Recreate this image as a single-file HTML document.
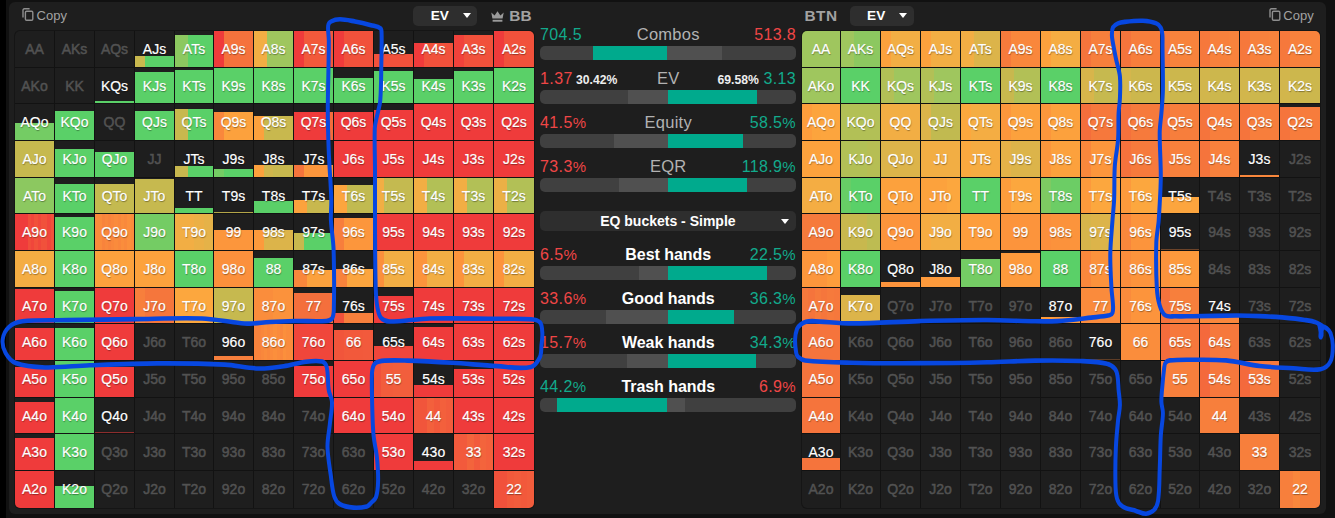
<!DOCTYPE html>
<html><head><meta charset="utf-8"><title>ranges</title>
<style>
*{box-sizing:border-box;margin:0;padding:0}
html,body{width:1335px;height:518px;overflow:hidden;background:#111;font-family:"Liberation Sans",sans-serif}
.strip{position:absolute;left:0;top:0;width:6.2px;height:518px;background:#000}
.card{position:absolute;left:9.1px;top:1.5px;width:1316.6px;height:512.4px;background:#1e1e1e;border-radius:6px}
.grid{position:absolute;background:#121212;border-radius:5px;overflow:hidden;box-shadow:0 0 0 1px #151515}
.c{position:absolute;background:#1e1e1e;color:#525252;font-size:14px;line-height:16px;text-align:center;-webkit-text-stroke:.5px currentColor;overflow:hidden}
.c.w{color:#fff;-webkit-text-stroke:.18px #fff;text-shadow:.5px 1px 1px rgba(0,0,0,.38)}
.c i{position:absolute;left:0;bottom:0;width:100%;display:block}
.c span{position:absolute;left:0;width:100%;display:block}
.hd{position:absolute;color:#a2a2a2;white-space:nowrap}
.dd{position:absolute;background:#2e2e2e;border-radius:5px;color:#fff;font-weight:bold}
.caret{position:absolute;width:0;height:0;border-left:4.7px solid transparent;border-right:4.7px solid transparent;border-top:5.4px solid #fff}
.row{position:absolute;left:540.1px;width:255.6px;height:20px;line-height:20px;font-size:16px;white-space:nowrap}
.row span{position:absolute;top:0}
.row .l{left:0;letter-spacing:.35px} .row .r{right:-.35px;letter-spacing:.35px} .row .m{left:0;width:256.3px;text-align:center;color:#b2b2b2;font-size:16.5px;letter-spacing:.25px;top:-1px}
.row .m.b{top:0;color:#fff;font-weight:bold;letter-spacing:-.05px;font-size:16px}
.row em{font-style:normal;font-size:15px}
.hd svg{display:block}
.g{color:#12aa8c} .rd{color:#ef4646}
.pc{color:#eee;font-size:12.2px;font-weight:bold;margin:0 4.6px 0 3.4px;position:relative;top:-.5px;letter-spacing:0}
.bar{position:absolute;left:540.1px;width:256.3px;height:13.8px;border-radius:5px;background:#404040;overflow:hidden}
.bar i{position:absolute;top:0;height:100%;display:block}
.bar .t{background:#00aa8d} .bar .h{background:#505050}
.ann{position:absolute;left:0;top:0;pointer-events:none}
</style></head><body>
<div class="strip"></div><div class="card"></div>
<div class="hd" style="left:21.9px;top:8.3px;height:13px"><svg width="12" height="13" viewBox="0 0 12 13"><rect x="3.4" y="3.2" width="7.4" height="9" rx="1.2" fill="none" stroke="#8e8e8e" stroke-width="1.4"/><path d="M1 9.6V2.2Q1 .8 2.4 .8H7.6" fill="none" stroke="#8e8e8e" stroke-width="1.4"/></svg></div>
<div class="hd" style="left:36.6px;top:7.8px;font-size:13px;line-height:15px">Copy</div>
<div class="hd" style="left:1268.5px;top:8.3px;height:13px"><svg width="12" height="13" viewBox="0 0 12 13"><rect x="3.4" y="3.2" width="7.4" height="9" rx="1.2" fill="none" stroke="#8e8e8e" stroke-width="1.4"/><path d="M1 9.6V2.2Q1 .8 2.4 .8H7.6" fill="none" stroke="#8e8e8e" stroke-width="1.4"/></svg></div>
<div class="hd" style="left:1283.3px;top:7.8px;font-size:13px;line-height:15px">Copy</div>
<div class="dd" style="left:413.1px;top:6px;width:63.7px;height:19.9px"><span style="position:absolute;left:17.7px;top:1.9px;font-size:13.6px;line-height:16px">EV</span><div class="caret" style="left:50.2px;top:7.3px"></div></div>
<div class="hd" style="left:491px;top:11.1px;height:11px"><svg width="13" height="11" viewBox="0 0 13 11"><path d="M.3 1.4L3.6 4.6 6.5 .3 9.4 4.6 12.7 1.4 11.6 7.6H1.4Z" fill="#9a9a9a"/><rect x="1.6" y="8.8" width="9.8" height="1.9" fill="#9a9a9a"/></svg></div>
<div class="hd" style="left:509.3px;top:6.8px;font-size:15.4px;line-height:18px;font-weight:bold">BB</div>
<div class="hd" style="left:804.4px;top:6.8px;font-size:15.4px;letter-spacing:.5px;line-height:18px;font-weight:bold">BTN</div>
<div class="dd" style="left:850px;top:6px;width:64px;height:19.9px"><span style="position:absolute;left:17.1px;top:1.9px;font-size:13.6px;line-height:16px">EV</span><div class="caret" style="left:49.2px;top:7.3px"></div></div>
<div class="grid" style="left:15px;top:31px;width:519px;height:477px">
<div class="c" style="left:0px;top:0px;width:39px;height:36px"><span style="top:10.00px">AA</span></div>
<div class="c" style="left:40px;top:0px;width:39px;height:36px"><span style="top:10.00px">AKs</span></div>
<div class="c" style="left:80px;top:0px;width:39px;height:36px"><span style="top:10.00px">AQs</span></div>
<div class="c w" style="left:120px;top:0px;width:39px;height:36px"><i style="height:11px;background:linear-gradient(90deg,#c8b84e 0.00% 25.00%,#5ad068 25.00% 50.00%,#5ad068 50.00% 75.00%,#5ad068 75.00% 100.00%)"></i><span style="top:10.00px">AJs</span></div>
<div class="c w" style="left:160px;top:0px;width:38px;height:36px"><i style="height:32px;background:linear-gradient(90deg,#8cc860 0.00% 16.67%,#8cc860 16.67% 33.33%,#5ad068 33.33% 50.00%,#5ad068 50.00% 66.67%,#5ad068 66.67% 83.33%,#5ad068 83.33% 100.00%)"></i><span style="top:10.00px">ATs</span></div>
<div class="c w" style="left:199px;top:0px;width:39px;height:36px"><i style="height:36.0px;background:linear-gradient(90deg,#ef3b3b 0.00% 25.00%,#f5723c 25.00% 50.00%,#f5723c 50.00% 75.00%,#f5723c 75.00% 100.00%)"></i><span style="top:10.00px">A9s</span></div>
<div class="c w" style="left:239px;top:0px;width:39px;height:36px"><i style="height:36.0px;background:linear-gradient(90deg,#f2ae44 0.00% 33.33%,#9fc65e 33.33% 66.67%,#9fc65e 66.67% 100.00%)"></i><span style="top:10.00px">A8s</span></div>
<div class="c w" style="left:279px;top:0px;width:39px;height:36px"><i style="height:36.0px;background:linear-gradient(90deg,#ef3b3b 0.00% 25.00%,#f2593b 25.00% 50.00%,#f2593b 50.00% 75.00%,#f2593b 75.00% 100.00%)"></i><span style="top:10.00px">A7s</span></div>
<div class="c w" style="left:319px;top:0px;width:39px;height:36px"><i style="height:36.0px;background:linear-gradient(90deg,#ef3b3b 0.00% 25.00%,#f1513b 25.00% 50.00%,#f1513b 50.00% 75.00%,#f1513b 75.00% 100.00%)"></i><span style="top:10.00px">A6s</span></div>
<div class="c w" style="left:359px;top:0px;width:39px;height:36px"><i style="height:13px;background:#f1513b"></i><span style="top:10.00px">A5s</span></div>
<div class="c w" style="left:399px;top:0px;width:39px;height:36px"><i style="height:24px;background:linear-gradient(90deg,#ef3b3b 0.00% 25.00%,#f1513b 25.00% 50.00%,#f1513b 50.00% 75.00%,#f1513b 75.00% 100.00%)"></i><span style="top:10.00px">A4s</span></div>
<div class="c w" style="left:439px;top:0px;width:39px;height:36px"><i style="height:32px;background:linear-gradient(90deg,#f0423b 0.00% 25.00%,#f1513b 25.00% 50.00%,#f1513b 50.00% 75.00%,#f1513b 75.00% 100.00%)"></i><span style="top:10.00px">A3s</span></div>
<div class="c w" style="left:479px;top:0px;width:40px;height:36px"><i style="height:36.0px;background:linear-gradient(90deg,#ef3b3b 0.00% 25.00%,#f1513b 25.00% 50.00%,#f1513b 50.00% 75.00%,#f1513b 75.00% 100.00%)"></i><span style="top:10.00px">A2s</span></div>
<div class="c" style="left:0px;top:37px;width:39px;height:35px"><span style="top:9.68px">AKo</span></div>
<div class="c" style="left:40px;top:37px;width:39px;height:35px"><span style="top:9.68px">KK</span></div>
<div class="c w" style="left:80px;top:37px;width:39px;height:35px"><i style="height:2px;background:#5ad068"></i><span style="top:9.68px">KQs</span></div>
<div class="c w" style="left:120px;top:37px;width:39px;height:35px"><i style="height:31px;background:#5ad068"></i><span style="top:9.68px">KJs</span></div>
<div class="c w" style="left:160px;top:37px;width:38px;height:35px"><i style="height:33px;background:#5ad068"></i><span style="top:9.68px">KTs</span></div>
<div class="c w" style="left:199px;top:37px;width:39px;height:35px"><i style="height:35.0px;background:#5ad068"></i><span style="top:9.68px">K9s</span></div>
<div class="c w" style="left:239px;top:37px;width:39px;height:35px"><i style="height:35.0px;background:#5ad068"></i><span style="top:9.68px">K8s</span></div>
<div class="c w" style="left:279px;top:37px;width:39px;height:35px"><i style="height:35.0px;background:#5ad068"></i><span style="top:9.68px">K7s</span></div>
<div class="c w" style="left:319px;top:37px;width:39px;height:35px"><i style="height:25px;background:#5ad068"></i><span style="top:9.68px">K6s</span></div>
<div class="c w" style="left:359px;top:37px;width:39px;height:35px"><i style="height:32px;background:#5ad068"></i><span style="top:9.68px">K5s</span></div>
<div class="c w" style="left:399px;top:37px;width:39px;height:35px"><i style="height:24px;background:#5ad068"></i><span style="top:9.68px">K4s</span></div>
<div class="c w" style="left:439px;top:37px;width:39px;height:35px"><i style="height:32px;background:#5ad068"></i><span style="top:9.68px">K3s</span></div>
<div class="c w" style="left:479px;top:37px;width:40px;height:35px"><i style="height:35.0px;background:#5ad068"></i><span style="top:9.68px">K2s</span></div>
<div class="c w" style="left:0px;top:73px;width:39px;height:36px"><i style="height:17px;background:#74cc64"></i><span style="top:10.36px">AQo</span></div>
<div class="c w" style="left:40px;top:73px;width:39px;height:36px"><i style="height:29px;background:#5ad068"></i><span style="top:10.36px">KQo</span></div>
<div class="c" style="left:80px;top:73px;width:39px;height:36px"><span style="top:10.36px">QQ</span></div>
<div class="c w" style="left:120px;top:73px;width:39px;height:36px"><i style="height:29px;background:#5ad068"></i><span style="top:10.36px">QJs</span></div>
<div class="c w" style="left:160px;top:73px;width:38px;height:36px"><i style="height:31px;background:linear-gradient(90deg,#c8b84e 0.00% 33.33%,#5ad068 33.33% 66.67%,#5ad068 66.67% 100.00%)"></i><span style="top:10.36px">QTs</span></div>
<div class="c w" style="left:199px;top:73px;width:39px;height:36px"><i style="height:28px;background:linear-gradient(90deg,#f9873c 0.00% 25.00%,#fca13d 25.00% 50.00%,#fca13d 50.00% 75.00%,#fca13d 75.00% 100.00%)"></i><span style="top:10.36px">Q9s</span></div>
<div class="c w" style="left:239px;top:73px;width:39px;height:36px"><i style="height:24px;background:linear-gradient(90deg,#fca13d 0.00% 25.00%,#c8b84e 25.00% 50.00%,#c8b84e 50.00% 75.00%,#c8b84e 75.00% 100.00%)"></i><span style="top:10.36px">Q8s</span></div>
<div class="c w" style="left:279px;top:73px;width:39px;height:36px"><i style="height:28px;background:linear-gradient(90deg,#ef3b3b 0.00% 8.33%,#ef3b3b 8.33% 16.67%,#ef3b3b 16.67% 25.00%,#ef3b3b 25.00% 33.33%,#ef3b3b 33.33% 41.67%,#ef3b3b 41.67% 50.00%,#ef3b3b 50.00% 58.33%,#ef3b3b 58.33% 66.67%,#ef3b3b 66.67% 75.00%,#ef3b3b 75.00% 83.33%,#ef3b3b 83.33% 91.67%,#f46c3c 91.67% 100.00%)"></i><span style="top:10.36px">Q7s</span></div>
<div class="c w" style="left:319px;top:73px;width:39px;height:36px"><i style="height:28px;background:#ef3b3b"></i><span style="top:10.36px">Q6s</span></div>
<div class="c w" style="left:359px;top:73px;width:39px;height:36px"><i style="height:30px;background:#ef3b3b"></i><span style="top:10.36px">Q5s</span></div>
<div class="c w" style="left:399px;top:73px;width:39px;height:36px"><i style="height:36.0px;background:#ef3b3b"></i><span style="top:10.36px">Q4s</span></div>
<div class="c w" style="left:439px;top:73px;width:39px;height:36px"><i style="height:36.0px;background:#ef3b3b"></i><span style="top:10.36px">Q3s</span></div>
<div class="c w" style="left:479px;top:73px;width:40px;height:36px"><i style="height:36.0px;background:#ef3b3b"></i><span style="top:10.36px">Q2s</span></div>
<div class="c w" style="left:0px;top:110px;width:39px;height:36px"><i style="height:36.0px;background:#c6b94f"></i><span style="top:10.04px">AJo</span></div>
<div class="c w" style="left:40px;top:110px;width:39px;height:36px"><i style="height:28px;background:#5ad068"></i><span style="top:10.04px">KJo</span></div>
<div class="c w" style="left:80px;top:110px;width:39px;height:36px"><i style="height:25px;background:#5ad068"></i><span style="top:10.04px">QJo</span></div>
<div class="c" style="left:120px;top:110px;width:39px;height:36px"><span style="top:10.04px">JJ</span></div>
<div class="c w" style="left:160px;top:110px;width:38px;height:36px"><i style="height:11px;background:linear-gradient(90deg,#c8b84e 0.00% 33.33%,#5ad068 33.33% 66.67%,#5ad068 66.67% 100.00%)"></i><span style="top:10.04px">JTs</span></div>
<div class="c w" style="left:199px;top:110px;width:39px;height:36px"><i style="height:8px;background:linear-gradient(90deg,#74cc64 0.00% 25.00%,#5ad068 25.00% 50.00%,#5ad068 50.00% 75.00%,#5ad068 75.00% 100.00%)"></i><span style="top:10.04px">J9s</span></div>
<div class="c w" style="left:239px;top:110px;width:39px;height:36px"><i style="height:12px;background:linear-gradient(90deg,#fca13d 0.00% 25.00%,#d0b64c 25.00% 50.00%,#c8b84e 50.00% 75.00%,#c8b84e 75.00% 100.00%)"></i><span style="top:10.04px">J8s</span></div>
<div class="c w" style="left:279px;top:110px;width:39px;height:36px"><i style="height:12px;background:linear-gradient(90deg,#f5743c 0.00% 25.00%,#fc963c 25.00% 50.00%,#fc963c 50.00% 75.00%,#fc963c 75.00% 100.00%)"></i><span style="top:10.04px">J7s</span></div>
<div class="c w" style="left:319px;top:110px;width:39px;height:36px"><i style="height:36.0px;background:#ef3b3b"></i><span style="top:10.04px">J6s</span></div>
<div class="c w" style="left:359px;top:110px;width:39px;height:36px"><i style="height:36.0px;background:#ef3b3b"></i><span style="top:10.04px">J5s</span></div>
<div class="c w" style="left:399px;top:110px;width:39px;height:36px"><i style="height:36.0px;background:#ef3b3b"></i><span style="top:10.04px">J4s</span></div>
<div class="c w" style="left:439px;top:110px;width:39px;height:36px"><i style="height:36.0px;background:#ef3b3b"></i><span style="top:10.04px">J3s</span></div>
<div class="c w" style="left:479px;top:110px;width:40px;height:36px"><i style="height:36.0px;background:#ef3b3b"></i><span style="top:10.04px">J2s</span></div>
<div class="c w" style="left:0px;top:147px;width:39px;height:35px"><i style="height:35.0px;background:#8cc860"></i><span style="top:9.72px">ATo</span></div>
<div class="c w" style="left:40px;top:147px;width:39px;height:35px"><i style="height:29px;background:#5ad068"></i><span style="top:9.72px">KTo</span></div>
<div class="c w" style="left:80px;top:147px;width:39px;height:35px"><i style="height:29px;background:#c4ba50"></i><span style="top:9.72px">QTo</span></div>
<div class="c w" style="left:120px;top:147px;width:39px;height:35px"><i style="height:34px;background:#c6b94f"></i><span style="top:9.72px">JTo</span></div>
<div class="c w" style="left:160px;top:147px;width:38px;height:35px"><i style="height:5px;background:#5ad068"></i><span style="top:9.72px">TT</span></div>
<div class="c w" style="left:199px;top:147px;width:39px;height:35px"><i style="height:1px;background:#c8b84e;opacity:0.88"></i><span style="top:9.72px">T9s</span></div>
<div class="c w" style="left:239px;top:147px;width:39px;height:35px"><i style="height:12px;background:#5ad068"></i><span style="top:9.72px">T8s</span></div>
<div class="c w" style="left:279px;top:147px;width:39px;height:35px"><i style="height:13px;background:linear-gradient(90deg,#fca23d 0.00% 16.67%,#fca23d 16.67% 33.33%,#c8b84e 33.33% 50.00%,#c8b84e 50.00% 66.67%,#c8b84e 66.67% 83.33%,#c8b84e 83.33% 100.00%)"></i><span style="top:9.72px">T7s</span></div>
<div class="c w" style="left:319px;top:147px;width:39px;height:35px"><i style="height:28px;background:linear-gradient(90deg,#fca53e 0.00% 16.67%,#fca53e 16.67% 33.33%,#c1ba50 33.33% 50.00%,#c1ba50 50.00% 66.67%,#c1ba50 66.67% 83.33%,#c1ba50 83.33% 100.00%)"></i><span style="top:9.72px">T6s</span></div>
<div class="c w" style="left:359px;top:147px;width:39px;height:35px"><i style="height:35.0px;background:linear-gradient(90deg,#f2ae44 0.00% 25.00%,#c4ba50 25.00% 50.00%,#c4ba50 50.00% 75.00%,#c4ba50 75.00% 100.00%)"></i><span style="top:9.72px">T5s</span></div>
<div class="c w" style="left:399px;top:147px;width:39px;height:35px"><i style="height:35.0px;background:linear-gradient(90deg,#f2ae44 0.00% 33.33%,#b2c056 33.33% 66.67%,#b2c056 66.67% 100.00%)"></i><span style="top:9.72px">T4s</span></div>
<div class="c w" style="left:439px;top:147px;width:39px;height:35px"><i style="height:35.0px;background:linear-gradient(90deg,#f2ae44 0.00% 33.33%,#b2c056 33.33% 66.67%,#b2c056 66.67% 100.00%)"></i><span style="top:9.72px">T3s</span></div>
<div class="c w" style="left:479px;top:147px;width:40px;height:35px"><i style="height:35.0px;background:linear-gradient(90deg,#ebb046 0.00% 33.33%,#b2c056 33.33% 66.67%,#b2c056 66.67% 100.00%)"></i><span style="top:9.72px">T2s</span></div>
<div class="c w" style="left:0px;top:183px;width:39px;height:36px"><i style="height:36.0px;background:linear-gradient(90deg,#ef3b3b 0.00% 8.33%,#ef3b3b 8.33% 16.67%,#ef3b3b 16.67% 25.00%,#ef3b3b 25.00% 33.33%,#f14d3b 33.33% 41.67%,#f0463b 41.67% 50.00%,#f1513b 50.00% 58.33%,#f0483b 58.33% 66.67%,#f1513b 66.67% 75.00%,#f1513b 75.00% 83.33%,#f0463b 83.33% 91.67%,#f1513b 91.67% 100.00%)"></i><span style="top:10.40px">A9o</span></div>
<div class="c w" style="left:40px;top:183px;width:39px;height:36px"><i style="height:33px;background:#5ad068"></i><span style="top:10.40px">K9o</span></div>
<div class="c w" style="left:80px;top:183px;width:39px;height:36px"><i style="height:36.0px;background:linear-gradient(90deg,#fa8b3c 0.00% 8.33%,#fa8b3c 8.33% 16.67%,#f8833c 16.67% 25.00%,#f9873c 25.00% 33.33%,#f8833c 33.33% 41.67%,#f9873c 41.67% 50.00%,#fa8b3c 50.00% 58.33%,#f9873c 58.33% 66.67%,#fa8d3c 66.67% 75.00%,#f9893c 75.00% 83.33%,#fb8f3c 83.33% 91.67%,#fa8b3c 91.67% 100.00%)"></i><span style="top:10.40px">Q9o</span></div>
<div class="c w" style="left:120px;top:183px;width:39px;height:36px"><i style="height:36.0px;background:#74cc64"></i><span style="top:10.40px">J9o</span></div>
<div class="c w" style="left:160px;top:183px;width:38px;height:36px"><i style="height:36.0px;background:linear-gradient(90deg,#f2ae44 0.00% 25.00%,#f2ae44 25.00% 50.00%,#ebb046 50.00% 75.00%,#e5b248 75.00% 100.00%)"></i><span style="top:10.40px">T9o</span></div>
<div class="c w" style="left:199px;top:183px;width:39px;height:36px"><i style="height:20px;background:#fc963c"></i><span style="top:10.40px">99</span></div>
<div class="c w" style="left:239px;top:183px;width:39px;height:36px"><i style="height:20px;background:linear-gradient(90deg,#fd9a3c 0.00% 25.00%,#dcb44a 25.00% 50.00%,#dcb44a 50.00% 75.00%,#dcb44a 75.00% 100.00%)"></i><span style="top:10.40px">98s</span></div>
<div class="c w" style="left:279px;top:183px;width:39px;height:36px"><i style="height:17px;background:linear-gradient(90deg,#c8b84e 0.00% 25.00%,#5ad068 25.00% 50.00%,#5ad068 50.00% 75.00%,#5ad068 75.00% 100.00%)"></i><span style="top:10.40px">97s</span></div>
<div class="c w" style="left:319px;top:183px;width:39px;height:36px"><i style="height:32px;background:linear-gradient(90deg,#f77e3c 0.00% 25.00%,#fc963c 25.00% 50.00%,#fc963c 50.00% 75.00%,#fc963c 75.00% 100.00%)"></i><span style="top:10.40px">96s</span></div>
<div class="c w" style="left:359px;top:183px;width:39px;height:36px"><i style="height:36.0px;background:#ef3b3b"></i><span style="top:10.40px">95s</span></div>
<div class="c w" style="left:399px;top:183px;width:39px;height:36px"><i style="height:36.0px;background:#ef3b3b"></i><span style="top:10.40px">94s</span></div>
<div class="c w" style="left:439px;top:183px;width:39px;height:36px"><i style="height:36.0px;background:#ef3b3b"></i><span style="top:10.40px">93s</span></div>
<div class="c w" style="left:479px;top:183px;width:40px;height:36px"><i style="height:36.0px;background:#ef3b3b"></i><span style="top:10.40px">92s</span></div>
<div class="c w" style="left:0px;top:220px;width:39px;height:36px"><i style="height:36.0px;background:#f4ad43"></i><span style="top:10.08px">A8o</span></div>
<div class="c w" style="left:40px;top:220px;width:39px;height:36px"><i style="height:36.0px;background:#5ad068"></i><span style="top:10.08px">K8o</span></div>
<div class="c w" style="left:80px;top:220px;width:39px;height:36px"><i style="height:36.0px;background:#fca23d"></i><span style="top:10.08px">Q8o</span></div>
<div class="c w" style="left:120px;top:220px;width:39px;height:36px"><i style="height:36.0px;background:#fca23d"></i><span style="top:10.08px">J8o</span></div>
<div class="c w" style="left:160px;top:220px;width:38px;height:36px"><i style="height:36.0px;background:#5ad068"></i><span style="top:10.08px">T8o</span></div>
<div class="c w" style="left:199px;top:220px;width:39px;height:36px"><i style="height:36.0px;background:#fb903c"></i><span style="top:10.08px">98o</span></div>
<div class="c w" style="left:239px;top:220px;width:39px;height:36px"><i style="height:29px;background:#5ad068"></i><span style="top:10.08px">88</span></div>
<div class="c w" style="left:279px;top:220px;width:39px;height:36px"><i style="height:17px;background:linear-gradient(90deg,#f9873c 0.00% 33.33%,#fca13d 33.33% 66.67%,#fca13d 66.67% 100.00%)"></i><span style="top:10.08px">87s</span></div>
<div class="c w" style="left:319px;top:220px;width:39px;height:36px"><i style="height:18px;background:linear-gradient(90deg,#f8833c 0.00% 33.33%,#fca53e 33.33% 66.67%,#fca53e 66.67% 100.00%)"></i><span style="top:10.08px">86s</span></div>
<div class="c w" style="left:359px;top:220px;width:39px;height:36px"><i style="height:36.0px;background:linear-gradient(90deg,#fb903c 0.00% 25.00%,#f2ae44 25.00% 50.00%,#f2ae44 50.00% 75.00%,#f2ae44 75.00% 100.00%)"></i><span style="top:10.08px">85s</span></div>
<div class="c w" style="left:399px;top:220px;width:39px;height:36px"><i style="height:36.0px;background:linear-gradient(90deg,#fc943c 0.00% 33.33%,#f2ae44 33.33% 66.67%,#f2ae44 66.67% 100.00%)"></i><span style="top:10.08px">84s</span></div>
<div class="c w" style="left:439px;top:220px;width:39px;height:36px"><i style="height:36.0px;background:linear-gradient(90deg,#fc943c 0.00% 25.00%,#f2ae44 25.00% 50.00%,#f2ae44 50.00% 75.00%,#f2ae44 75.00% 100.00%)"></i><span style="top:10.08px">83s</span></div>
<div class="c w" style="left:479px;top:220px;width:40px;height:36px"><i style="height:36.0px;background:linear-gradient(90deg,#fc943c 0.00% 25.00%,#f2ae44 25.00% 50.00%,#f2ae44 50.00% 75.00%,#f2ae44 75.00% 100.00%)"></i><span style="top:10.08px">82s</span></div>
<div class="c w" style="left:0px;top:257px;width:39px;height:35px"><i style="height:34px;background:#ef3b3b"></i><span style="top:9.76px">A7o</span></div>
<div class="c w" style="left:40px;top:257px;width:39px;height:35px"><i style="height:32px;background:#5ad068"></i><span style="top:9.76px">K7o</span></div>
<div class="c w" style="left:80px;top:257px;width:39px;height:35px"><i style="height:35.0px;background:#ef3b3b"></i><span style="top:9.76px">Q7o</span></div>
<div class="c w" style="left:120px;top:257px;width:39px;height:35px"><i style="height:35.0px;background:linear-gradient(90deg,#f77f3c 0.00% 25.00%,#f5763c 25.00% 50.00%,#f5763c 50.00% 75.00%,#f5763c 75.00% 100.00%)"></i><span style="top:9.76px">J7o</span></div>
<div class="c w" style="left:160px;top:257px;width:38px;height:35px"><i style="height:35.0px;background:#fca73e"></i><span style="top:9.76px">T7o</span></div>
<div class="c w" style="left:199px;top:257px;width:39px;height:35px"><i style="height:35.0px;background:#c6b94f"></i><span style="top:9.76px">97o</span></div>
<div class="c w" style="left:239px;top:257px;width:39px;height:35px"><i style="height:35.0px;background:linear-gradient(90deg,#fa8d3c 0.00% 50.00%,#fb923c 50.00% 100.00%)"></i><span style="top:9.76px">87o</span></div>
<div class="c w" style="left:279px;top:257px;width:39px;height:35px"><i style="height:30px;background:#f46f3c"></i><span style="top:9.76px">77</span></div>
<div class="c w" style="left:319px;top:257px;width:39px;height:35px"><i style="height:10px;background:linear-gradient(90deg,#f1513b 0.00% 25.00%,#f77f3c 25.00% 50.00%,#f77f3c 50.00% 75.00%,#f77f3c 75.00% 100.00%)"></i><span style="top:9.76px">76s</span></div>
<div class="c w" style="left:359px;top:257px;width:39px;height:35px"><i style="height:27px;background:#ef3b3b"></i><span style="top:9.76px">75s</span></div>
<div class="c w" style="left:399px;top:257px;width:39px;height:35px"><i style="height:35.0px;background:#ef3b3b"></i><span style="top:9.76px">74s</span></div>
<div class="c w" style="left:439px;top:257px;width:39px;height:35px"><i style="height:35.0px;background:#ef3b3b"></i><span style="top:9.76px">73s</span></div>
<div class="c w" style="left:479px;top:257px;width:40px;height:35px"><i style="height:35.0px;background:#ef3b3b"></i><span style="top:9.76px">72s</span></div>
<div class="c w" style="left:0px;top:293px;width:39px;height:36px"><i style="height:32px;background:#ef3b3b"></i><span style="top:10.44px">A6o</span></div>
<div class="c w" style="left:40px;top:293px;width:39px;height:36px"><i style="height:32px;background:#5ad068"></i><span style="top:10.44px">K6o</span></div>
<div class="c w" style="left:80px;top:293px;width:39px;height:36px"><i style="height:36.0px;background:#ef3b3b"></i><span style="top:10.44px">Q6o</span></div>
<div class="c" style="left:120px;top:293px;width:39px;height:36px"><span style="top:10.44px">J6o</span></div>
<div class="c" style="left:160px;top:293px;width:38px;height:36px"><span style="top:10.44px">T6o</span></div>
<div class="c w" style="left:199px;top:293px;width:39px;height:36px"><i style="height:4px;background:#f77f3c"></i><span style="top:10.44px">96o</span></div>
<div class="c w" style="left:239px;top:293px;width:39px;height:36px"><i style="height:36.0px;background:linear-gradient(90deg,#f8833c 0.00% 8.33%,#f8833c 8.33% 16.67%,#f9873c 16.67% 25.00%,#fa8b3c 25.00% 33.33%,#f9873c 33.33% 41.67%,#fa8b3c 41.67% 50.00%,#fb8f3c 50.00% 58.33%,#fa8b3c 58.33% 66.67%,#f9873c 66.67% 75.00%,#fb8f3c 75.00% 83.33%,#fa8b3c 83.33% 91.67%,#fa8b3c 91.67% 100.00%)"></i><span style="top:10.44px">86o</span></div>
<div class="c w" style="left:279px;top:293px;width:39px;height:36px"><i style="height:36.0px;background:#f0463b"></i><span style="top:10.44px">76o</span></div>
<div class="c w" style="left:319px;top:293px;width:39px;height:36px"><i style="height:30px;background:linear-gradient(90deg,#f1553b 0.00% 25.00%,#f2593b 25.00% 50.00%,#f2593b 50.00% 75.00%,#f25a3c 75.00% 100.00%)"></i><span style="top:10.44px">66</span></div>
<div class="c w" style="left:359px;top:293px;width:39px;height:36px"><i style="height:14px;background:#f0463b"></i><span style="top:10.44px">65s</span></div>
<div class="c w" style="left:399px;top:293px;width:39px;height:36px"><i style="height:33px;background:#ef3b3b"></i><span style="top:10.44px">64s</span></div>
<div class="c w" style="left:439px;top:293px;width:39px;height:36px"><i style="height:36.0px;background:#ef3b3b"></i><span style="top:10.44px">63s</span></div>
<div class="c w" style="left:479px;top:293px;width:40px;height:36px"><i style="height:36.0px;background:#ef3b3b"></i><span style="top:10.44px">62s</span></div>
<div class="c w" style="left:0px;top:330px;width:39px;height:36px"><i style="height:30px;background:#ef3b3b"></i><span style="top:10.12px">A5o</span></div>
<div class="c w" style="left:40px;top:330px;width:39px;height:36px"><i style="height:36.0px;background:#5ad068"></i><span style="top:10.12px">K5o</span></div>
<div class="c w" style="left:80px;top:330px;width:39px;height:36px"><i style="height:30px;background:#ef3b3b"></i><span style="top:10.12px">Q5o</span></div>
<div class="c" style="left:120px;top:330px;width:39px;height:36px"><span style="top:10.12px">J5o</span></div>
<div class="c" style="left:160px;top:330px;width:38px;height:36px"><span style="top:10.12px">T5o</span></div>
<div class="c" style="left:199px;top:330px;width:39px;height:36px"><span style="top:10.12px">95o</span></div>
<div class="c" style="left:239px;top:330px;width:39px;height:36px"><span style="top:10.12px">85o</span></div>
<div class="c w" style="left:279px;top:330px;width:39px;height:36px"><i style="height:31px;background:#ef3b3b"></i><span style="top:10.12px">75o</span></div>
<div class="c w" style="left:319px;top:330px;width:39px;height:36px"><i style="height:36.0px;background:#ef3b3b"></i><span style="top:10.12px">65o</span></div>
<div class="c w" style="left:359px;top:330px;width:39px;height:36px"><i style="height:36.0px;background:linear-gradient(90deg,#f1513b 0.00% 16.67%,#f25c3c 16.67% 33.33%,#f25c3c 33.33% 50.00%,#f25e3c 50.00% 66.67%,#f25e3c 66.67% 83.33%,#f25e3c 83.33% 100.00%)"></i><span style="top:10.12px">55</span></div>
<div class="c w" style="left:399px;top:330px;width:39px;height:36px"><i style="height:12px;background:#ef3b3b"></i><span style="top:10.12px">54s</span></div>
<div class="c w" style="left:439px;top:330px;width:39px;height:36px"><i style="height:28px;background:#ef3b3b"></i><span style="top:10.12px">53s</span></div>
<div class="c w" style="left:479px;top:330px;width:40px;height:36px"><i style="height:36.0px;background:#ef3b3b"></i><span style="top:10.12px">52s</span></div>
<div class="c w" style="left:0px;top:367px;width:39px;height:35px"><i style="height:31px;background:#ef3b3b"></i><span style="top:9.80px">A4o</span></div>
<div class="c w" style="left:40px;top:367px;width:39px;height:35px"><i style="height:35.0px;background:#5ad068"></i><span style="top:9.80px">K4o</span></div>
<div class="c w" style="left:80px;top:367px;width:39px;height:35px"><i style="height:1px;background:#ef3b3b;opacity:0.53"></i><span style="top:9.80px">Q4o</span></div>
<div class="c" style="left:120px;top:367px;width:39px;height:35px"><span style="top:9.80px">J4o</span></div>
<div class="c" style="left:160px;top:367px;width:38px;height:35px"><span style="top:9.80px">T4o</span></div>
<div class="c" style="left:199px;top:367px;width:39px;height:35px"><span style="top:9.80px">94o</span></div>
<div class="c" style="left:239px;top:367px;width:39px;height:35px"><span style="top:9.80px">84o</span></div>
<div class="c" style="left:279px;top:367px;width:39px;height:35px"><span style="top:9.80px">74o</span></div>
<div class="c w" style="left:319px;top:367px;width:39px;height:35px"><i style="height:35.0px;background:#ef3b3b"></i><span style="top:9.80px">64o</span></div>
<div class="c w" style="left:359px;top:367px;width:39px;height:35px"><i style="height:35.0px;background:#ef3b3b"></i><span style="top:9.80px">54o</span></div>
<div class="c w" style="left:399px;top:367px;width:39px;height:35px"><i style="height:35.0px;background:linear-gradient(90deg,#f1553b 0.00% 16.67%,#f1553b 16.67% 33.33%,#f3603c 33.33% 50.00%,#f2593b 50.00% 66.67%,#f3603c 66.67% 83.33%,#f25c3c 83.33% 100.00%)"></i><span style="top:9.80px">44</span></div>
<div class="c w" style="left:439px;top:367px;width:39px;height:35px"><i style="height:35.0px;background:#ef3b3b"></i><span style="top:9.80px">43s</span></div>
<div class="c w" style="left:479px;top:367px;width:40px;height:35px"><i style="height:35.0px;background:#ef3b3b"></i><span style="top:9.80px">42s</span></div>
<div class="c w" style="left:0px;top:403px;width:39px;height:36px"><i style="height:32px;background:#ef3b3b"></i><span style="top:10.48px">A3o</span></div>
<div class="c w" style="left:40px;top:403px;width:39px;height:36px"><i style="height:36.0px;background:#5ad068"></i><span style="top:10.48px">K3o</span></div>
<div class="c" style="left:80px;top:403px;width:39px;height:36px"><span style="top:10.48px">Q3o</span></div>
<div class="c" style="left:120px;top:403px;width:39px;height:36px"><span style="top:10.48px">J3o</span></div>
<div class="c" style="left:160px;top:403px;width:38px;height:36px"><span style="top:10.48px">T3o</span></div>
<div class="c" style="left:199px;top:403px;width:39px;height:36px"><span style="top:10.48px">93o</span></div>
<div class="c" style="left:239px;top:403px;width:39px;height:36px"><span style="top:10.48px">83o</span></div>
<div class="c" style="left:279px;top:403px;width:39px;height:36px"><span style="top:10.48px">73o</span></div>
<div class="c" style="left:319px;top:403px;width:39px;height:36px"><span style="top:10.48px">63o</span></div>
<div class="c w" style="left:359px;top:403px;width:39px;height:36px"><i style="height:36.0px;background:#ef3b3b"></i><span style="top:10.48px">53o</span></div>
<div class="c w" style="left:399px;top:403px;width:39px;height:36px"><i style="height:9px;background:#ef3b3b"></i><span style="top:10.48px">43o</span></div>
<div class="c w" style="left:439px;top:403px;width:39px;height:36px"><i style="height:36.0px;background:linear-gradient(90deg,#f25a3c 0.00% 16.67%,#f25a3c 16.67% 33.33%,#f3643c 33.33% 50.00%,#f25a3c 50.00% 66.67%,#f3643c 66.67% 83.33%,#f3603c 83.33% 100.00%)"></i><span style="top:10.48px">33</span></div>
<div class="c w" style="left:479px;top:403px;width:40px;height:36px"><i style="height:36.0px;background:#ef3b3b"></i><span style="top:10.48px">32s</span></div>
<div class="c w" style="left:0px;top:440px;width:39px;height:37px"><i style="height:37.0px;background:#ef3b3b"></i><span style="top:10.16px">A2o</span></div>
<div class="c w" style="left:40px;top:440px;width:39px;height:37px"><i style="height:22px;background:#5ad068"></i><span style="top:10.16px">K2o</span></div>
<div class="c" style="left:80px;top:440px;width:39px;height:37px"><span style="top:10.16px">Q2o</span></div>
<div class="c" style="left:120px;top:440px;width:39px;height:37px"><span style="top:10.16px">J2o</span></div>
<div class="c" style="left:160px;top:440px;width:38px;height:37px"><span style="top:10.16px">T2o</span></div>
<div class="c" style="left:199px;top:440px;width:39px;height:37px"><span style="top:10.16px">92o</span></div>
<div class="c" style="left:239px;top:440px;width:39px;height:37px"><span style="top:10.16px">82o</span></div>
<div class="c" style="left:279px;top:440px;width:39px;height:37px"><span style="top:10.16px">72o</span></div>
<div class="c" style="left:319px;top:440px;width:39px;height:37px"><span style="top:10.16px">62o</span></div>
<div class="c" style="left:359px;top:440px;width:39px;height:37px"><span style="top:10.16px">52o</span></div>
<div class="c" style="left:399px;top:440px;width:39px;height:37px"><span style="top:10.16px">42o</span></div>
<div class="c" style="left:439px;top:440px;width:39px;height:37px"><span style="top:10.16px">32o</span></div>
<div class="c w" style="left:479px;top:440px;width:40px;height:37px"><i style="height:37.0px;background:linear-gradient(90deg,#f1513b 0.00% 16.67%,#f1513b 16.67% 33.33%,#f2593b 33.33% 50.00%,#f25c3c 50.00% 66.67%,#f2593b 66.67% 83.33%,#f25c3c 83.33% 100.00%)"></i><span style="top:10.16px">22</span></div>
</div>
<div class="grid" style="left:802px;top:31px;width:518px;height:477px">
<div class="c w" style="left:0px;top:0px;width:38px;height:36px"><i style="height:36.0px;background:#9fc65e"></i><span style="top:10.00px">AA</span></div>
<div class="c w" style="left:39px;top:0px;width:39px;height:36px"><i style="height:36.0px;background:linear-gradient(90deg,#9fc65e 0.00% 33.33%,#8cc860 33.33% 66.67%,#8cc860 66.67% 100.00%)"></i><span style="top:10.00px">AKs</span></div>
<div class="c w" style="left:79px;top:0px;width:39px;height:36px"><i style="height:36.0px;background:linear-gradient(90deg,#fca13d 0.00% 25.00%,#f2ae44 25.00% 50.00%,#f2ae44 50.00% 75.00%,#f2ae44 75.00% 100.00%)"></i><span style="top:10.00px">AQs</span></div>
<div class="c w" style="left:119px;top:0px;width:39px;height:36px"><i style="height:36.0px;background:linear-gradient(90deg,#fca13d 0.00% 25.00%,#f2ae44 25.00% 50.00%,#f2ae44 50.00% 75.00%,#f2ae44 75.00% 100.00%)"></i><span style="top:10.00px">AJs</span></div>
<div class="c w" style="left:159px;top:0px;width:39px;height:36px"><i style="height:36.0px;background:linear-gradient(90deg,#f2ae44 0.00% 33.33%,#dcb44a 33.33% 66.67%,#dcb44a 66.67% 100.00%)"></i><span style="top:10.00px">ATs</span></div>
<div class="c w" style="left:199px;top:0px;width:39px;height:36px"><i style="height:36.0px;background:linear-gradient(90deg,#f67a3c 0.00% 25.00%,#f9873c 25.00% 50.00%,#f9873c 50.00% 75.00%,#f9873c 75.00% 100.00%)"></i><span style="top:10.00px">A9s</span></div>
<div class="c w" style="left:239px;top:0px;width:39px;height:36px"><i style="height:36.0px;background:linear-gradient(90deg,#fca13d 0.00% 25.00%,#f6ac42 25.00% 50.00%,#f4ad43 50.00% 75.00%,#f4ad43 75.00% 100.00%)"></i><span style="top:10.00px">A8s</span></div>
<div class="c w" style="left:279px;top:0px;width:39px;height:36px"><i style="height:36.0px;background:linear-gradient(90deg,#f5743c 0.00% 25.00%,#f77f3c 25.00% 50.00%,#f77f3c 50.00% 75.00%,#f77f3c 75.00% 100.00%)"></i><span style="top:10.00px">A7s</span></div>
<div class="c w" style="left:319px;top:0px;width:39px;height:36px"><i style="height:36.0px;background:linear-gradient(90deg,#f5743c 0.00% 25.00%,#f77e3c 25.00% 50.00%,#f77e3c 50.00% 75.00%,#f77e3c 75.00% 100.00%)"></i><span style="top:10.00px">A6s</span></div>
<div class="c w" style="left:359px;top:0px;width:38px;height:36px"><i style="height:36.0px;background:linear-gradient(90deg,#f67a3c 0.00% 25.00%,#f8833c 25.00% 50.00%,#f8833c 50.00% 75.00%,#f8833c 75.00% 100.00%)"></i><span style="top:10.00px">A5s</span></div>
<div class="c w" style="left:398px;top:0px;width:39px;height:36px"><i style="height:36.0px;background:linear-gradient(90deg,#f6783c 0.00% 25.00%,#f8813c 25.00% 50.00%,#f8813c 50.00% 75.00%,#f8833c 75.00% 100.00%)"></i><span style="top:10.00px">A4s</span></div>
<div class="c w" style="left:438px;top:0px;width:39px;height:36px"><i style="height:36.0px;background:linear-gradient(90deg,#f6783c 0.00% 25.00%,#f8813c 25.00% 50.00%,#f8813c 50.00% 75.00%,#f8833c 75.00% 100.00%)"></i><span style="top:10.00px">A3s</span></div>
<div class="c w" style="left:478px;top:0px;width:40px;height:36px"><i style="height:36.0px;background:linear-gradient(90deg,#f6783c 0.00% 25.00%,#f8813c 25.00% 50.00%,#f8813c 50.00% 75.00%,#f8833c 75.00% 100.00%)"></i><span style="top:10.00px">A2s</span></div>
<div class="c w" style="left:0px;top:37px;width:38px;height:35px"><i style="height:35.0px;background:#9fc65e"></i><span style="top:9.68px">AKo</span></div>
<div class="c w" style="left:39px;top:37px;width:39px;height:35px"><i style="height:35.0px;background:#5ad068"></i><span style="top:9.68px">KK</span></div>
<div class="c w" style="left:79px;top:37px;width:39px;height:35px"><i style="height:35.0px;background:linear-gradient(90deg,#b2c056 0.00% 33.33%,#9fc65e 33.33% 66.67%,#9fc65e 66.67% 100.00%)"></i><span style="top:9.68px">KQs</span></div>
<div class="c w" style="left:119px;top:37px;width:39px;height:35px"><i style="height:35.0px;background:linear-gradient(90deg,#b2c056 0.00% 33.33%,#9fc65e 33.33% 66.67%,#9fc65e 66.67% 100.00%)"></i><span style="top:9.68px">KJs</span></div>
<div class="c w" style="left:159px;top:37px;width:39px;height:35px"><i style="height:35.0px;background:#5ad068"></i><span style="top:9.68px">KTs</span></div>
<div class="c w" style="left:199px;top:37px;width:39px;height:35px"><i style="height:35.0px;background:linear-gradient(90deg,#c8b84e 0.00% 33.33%,#b2c056 33.33% 66.67%,#b2c056 66.67% 100.00%)"></i><span style="top:9.68px">K9s</span></div>
<div class="c w" style="left:239px;top:37px;width:39px;height:35px"><i style="height:35.0px;background:#5ad068"></i><span style="top:9.68px">K8s</span></div>
<div class="c w" style="left:279px;top:37px;width:39px;height:35px"><i style="height:35.0px;background:linear-gradient(90deg,#d8b54b 0.00% 33.33%,#c6b94f 33.33% 66.67%,#c6b94f 66.67% 100.00%)"></i><span style="top:9.68px">K7s</span></div>
<div class="c w" style="left:319px;top:37px;width:39px;height:35px"><i style="height:35.0px;background:linear-gradient(90deg,#d4b64c 0.00% 25.00%,#ccb74d 25.00% 50.00%,#ccb74d 50.00% 75.00%,#ccb74d 75.00% 100.00%)"></i><span style="top:9.68px">K6s</span></div>
<div class="c w" style="left:359px;top:37px;width:38px;height:35px"><i style="height:35.0px;background:linear-gradient(90deg,#d2b64c 0.00% 25.00%,#ccb74d 25.00% 50.00%,#ccb74d 50.00% 75.00%,#ccb74d 75.00% 100.00%)"></i><span style="top:9.68px">K5s</span></div>
<div class="c w" style="left:398px;top:37px;width:39px;height:35px"><i style="height:35.0px;background:linear-gradient(90deg,#d2b64c 0.00% 25.00%,#ccb74d 25.00% 50.00%,#ccb74d 50.00% 75.00%,#ccb74d 75.00% 100.00%)"></i><span style="top:9.68px">K4s</span></div>
<div class="c w" style="left:438px;top:37px;width:39px;height:35px"><i style="height:35.0px;background:linear-gradient(90deg,#d2b64c 0.00% 25.00%,#ccb74d 25.00% 50.00%,#ccb74d 50.00% 75.00%,#ccb74d 75.00% 100.00%)"></i><span style="top:9.68px">K3s</span></div>
<div class="c w" style="left:478px;top:37px;width:40px;height:35px"><i style="height:35.0px;background:linear-gradient(90deg,#d2b64c 0.00% 25.00%,#ccb74d 25.00% 50.00%,#ccb74d 50.00% 75.00%,#ccb74d 75.00% 100.00%)"></i><span style="top:9.68px">K2s</span></div>
<div class="c w" style="left:0px;top:73px;width:38px;height:36px"><i style="height:36.0px;background:linear-gradient(90deg,#fd9d3c 0.00% 25.00%,#fca43d 25.00% 50.00%,#fca53e 50.00% 75.00%,#fca53e 75.00% 100.00%)"></i><span style="top:10.36px">AQo</span></div>
<div class="c w" style="left:39px;top:73px;width:39px;height:36px"><i style="height:36.0px;background:#b2c056"></i><span style="top:10.36px">KQo</span></div>
<div class="c w" style="left:79px;top:73px;width:39px;height:36px"><i style="height:36.0px;background:#f2ae44"></i><span style="top:10.36px">QQ</span></div>
<div class="c w" style="left:119px;top:73px;width:39px;height:36px"><i style="height:36.0px;background:linear-gradient(90deg,#dcb44a 0.00% 25.00%,#c1ba50 25.00% 50.00%,#c1ba50 50.00% 75.00%,#c1ba50 75.00% 100.00%)"></i><span style="top:10.36px">QJs</span></div>
<div class="c w" style="left:159px;top:73px;width:39px;height:36px"><i style="height:36.0px;background:linear-gradient(90deg,#fca83e 0.00% 25.00%,#f4ad43 25.00% 50.00%,#f4ad43 50.00% 75.00%,#f4ad43 75.00% 100.00%)"></i><span style="top:10.36px">QTs</span></div>
<div class="c w" style="left:199px;top:73px;width:39px;height:36px"><i style="height:36.0px;background:linear-gradient(90deg,#fc963c 0.00% 25.00%,#fca13d 25.00% 50.00%,#fca13d 50.00% 75.00%,#fca13d 75.00% 100.00%)"></i><span style="top:10.36px">Q9s</span></div>
<div class="c w" style="left:239px;top:73px;width:39px;height:36px"><i style="height:36.0px;background:linear-gradient(90deg,#fc963c 0.00% 25.00%,#fca13d 25.00% 50.00%,#fca13d 50.00% 75.00%,#fca13d 75.00% 100.00%)"></i><span style="top:10.36px">Q8s</span></div>
<div class="c w" style="left:279px;top:73px;width:39px;height:36px"><i style="height:36.0px;background:linear-gradient(90deg,#f46e3c 0.00% 25.00%,#f6783c 25.00% 50.00%,#f6783c 50.00% 75.00%,#f6783c 75.00% 100.00%)"></i><span style="top:10.36px">Q7s</span></div>
<div class="c w" style="left:319px;top:73px;width:39px;height:36px"><i style="height:36.0px;background:linear-gradient(90deg,#f5713c 0.00% 25.00%,#f67a3c 25.00% 50.00%,#f67a3c 50.00% 75.00%,#f67a3c 75.00% 100.00%)"></i><span style="top:10.36px">Q6s</span></div>
<div class="c w" style="left:359px;top:73px;width:38px;height:36px"><i style="height:36.0px;background:linear-gradient(90deg,#f5743c 0.00% 25.00%,#f77e3c 25.00% 50.00%,#f77e3c 50.00% 75.00%,#f77e3c 75.00% 100.00%)"></i><span style="top:10.36px">Q5s</span></div>
<div class="c w" style="left:398px;top:73px;width:39px;height:36px"><i style="height:36.0px;background:linear-gradient(90deg,#f5743c 0.00% 25.00%,#f77e3c 25.00% 50.00%,#f77e3c 50.00% 75.00%,#f77e3c 75.00% 100.00%)"></i><span style="top:10.36px">Q4s</span></div>
<div class="c w" style="left:438px;top:73px;width:39px;height:36px"><i style="height:36.0px;background:linear-gradient(90deg,#f5743c 0.00% 25.00%,#f77e3c 25.00% 50.00%,#f77e3c 50.00% 75.00%,#f77e3c 75.00% 100.00%)"></i><span style="top:10.36px">Q3s</span></div>
<div class="c w" style="left:478px;top:73px;width:40px;height:36px"><i style="height:33px;background:linear-gradient(90deg,#f5743c 0.00% 25.00%,#f77c3c 25.00% 50.00%,#f77c3c 50.00% 75.00%,#f77c3c 75.00% 100.00%)"></i><span style="top:10.36px">Q2s</span></div>
<div class="c w" style="left:0px;top:110px;width:38px;height:36px"><i style="height:36.0px;background:#fca23d"></i><span style="top:10.04px">AJo</span></div>
<div class="c w" style="left:39px;top:110px;width:39px;height:36px"><i style="height:36.0px;background:linear-gradient(90deg,#b2c056 0.00% 33.33%,#b2c056 33.33% 66.67%,#b6be54 66.67% 100.00%)"></i><span style="top:10.04px">KJo</span></div>
<div class="c w" style="left:79px;top:110px;width:39px;height:36px"><i style="height:36.0px;background:#dcb44a"></i><span style="top:10.04px">QJo</span></div>
<div class="c w" style="left:119px;top:110px;width:39px;height:36px"><i style="height:36.0px;background:#f2ae44"></i><span style="top:10.04px">JJ</span></div>
<div class="c w" style="left:159px;top:110px;width:39px;height:36px"><i style="height:36.0px;background:linear-gradient(90deg,#faa93f 0.00% 25.00%,#f5ac42 25.00% 50.00%,#f5ac42 50.00% 75.00%,#f5ac42 75.00% 100.00%)"></i><span style="top:10.04px">JTs</span></div>
<div class="c w" style="left:199px;top:110px;width:39px;height:36px"><i style="height:36.0px;background:linear-gradient(90deg,#e5b248 0.00% 25.00%,#dcb44a 25.00% 50.00%,#dcb44a 50.00% 75.00%,#dcb44a 75.00% 100.00%)"></i><span style="top:10.04px">J9s</span></div>
<div class="c w" style="left:239px;top:110px;width:39px;height:36px"><i style="height:36.0px;background:linear-gradient(90deg,#fc963c 0.00% 25.00%,#fca13d 25.00% 50.00%,#fca13d 50.00% 75.00%,#fca13d 75.00% 100.00%)"></i><span style="top:10.04px">J8s</span></div>
<div class="c w" style="left:279px;top:110px;width:39px;height:36px"><i style="height:36.0px;background:linear-gradient(90deg,#f9873c 0.00% 25.00%,#fc963c 25.00% 50.00%,#fc963c 50.00% 75.00%,#fc963c 75.00% 100.00%)"></i><span style="top:10.04px">J7s</span></div>
<div class="c w" style="left:319px;top:110px;width:39px;height:36px"><i style="height:36.0px;background:linear-gradient(90deg,#f5723c 0.00% 25.00%,#f67a3c 25.00% 50.00%,#f67a3c 50.00% 75.00%,#f67a3c 75.00% 100.00%)"></i><span style="top:10.04px">J6s</span></div>
<div class="c w" style="left:359px;top:110px;width:38px;height:36px"><i style="height:36.0px;background:linear-gradient(90deg,#f6783c 0.00% 25.00%,#f8813c 25.00% 50.00%,#f8813c 50.00% 75.00%,#f8813c 75.00% 100.00%)"></i><span style="top:10.04px">J5s</span></div>
<div class="c w" style="left:398px;top:110px;width:39px;height:36px"><i style="height:36.0px;background:linear-gradient(90deg,#f5743c 0.00% 25.00%,#f8813c 25.00% 50.00%,#f8813c 50.00% 75.00%,#f8813c 75.00% 100.00%)"></i><span style="top:10.04px">J4s</span></div>
<div class="c w" style="left:438px;top:110px;width:39px;height:36px"><i style="height:2px;background:#f9873c"></i><span style="top:10.04px">J3s</span></div>
<div class="c" style="left:478px;top:110px;width:40px;height:36px"><span style="top:10.04px">J2s</span></div>
<div class="c w" style="left:0px;top:147px;width:38px;height:35px"><i style="height:35.0px;background:#f4ad43"></i><span style="top:9.72px">ATo</span></div>
<div class="c w" style="left:39px;top:147px;width:39px;height:35px"><i style="height:35.0px;background:linear-gradient(90deg,#67ce66 0.00% 25.00%,#5ad068 25.00% 50.00%,#5ad068 50.00% 75.00%,#5ad068 75.00% 100.00%)"></i><span style="top:9.72px">KTo</span></div>
<div class="c w" style="left:79px;top:147px;width:39px;height:35px"><i style="height:35.0px;background:#fca13d"></i><span style="top:9.72px">QTo</span></div>
<div class="c w" style="left:119px;top:147px;width:39px;height:35px"><i style="height:35.0px;background:linear-gradient(90deg,#fca23d 0.00% 33.33%,#fca23d 33.33% 66.67%,#fca73e 66.67% 100.00%)"></i><span style="top:9.72px">JTo</span></div>
<div class="c w" style="left:159px;top:147px;width:39px;height:35px"><i style="height:35.0px;background:#5ad068"></i><span style="top:9.72px">TT</span></div>
<div class="c w" style="left:199px;top:147px;width:39px;height:35px"><i style="height:35.0px;background:linear-gradient(90deg,#fd9d3c 0.00% 25.00%,#fca73e 25.00% 50.00%,#fca73e 50.00% 75.00%,#fca73e 75.00% 100.00%)"></i><span style="top:9.72px">T9s</span></div>
<div class="c w" style="left:239px;top:147px;width:39px;height:35px"><i style="height:35.0px;background:linear-gradient(90deg,#7eca62 0.00% 25.00%,#6ccd65 25.00% 50.00%,#6ccd65 50.00% 75.00%,#6ccd65 75.00% 100.00%)"></i><span style="top:9.72px">T8s</span></div>
<div class="c w" style="left:279px;top:147px;width:39px;height:35px"><i style="height:35.0px;background:linear-gradient(90deg,#fd9a3c 0.00% 25.00%,#fca73e 25.00% 50.00%,#fca73e 50.00% 75.00%,#fca73e 75.00% 100.00%)"></i><span style="top:9.72px">T7s</span></div>
<div class="c w" style="left:319px;top:147px;width:39px;height:35px"><i style="height:35.0px;background:linear-gradient(90deg,#fd9a3c 0.00% 25.00%,#fca73e 25.00% 50.00%,#fca73e 50.00% 75.00%,#fca73e 75.00% 100.00%)"></i><span style="top:9.72px">T6s</span></div>
<div class="c w" style="left:359px;top:147px;width:38px;height:35px"><i style="height:16px;background:#fca53e"></i><span style="top:9.72px">T5s</span></div>
<div class="c" style="left:398px;top:147px;width:39px;height:35px"><span style="top:9.72px">T4s</span></div>
<div class="c" style="left:438px;top:147px;width:39px;height:35px"><span style="top:9.72px">T3s</span></div>
<div class="c" style="left:478px;top:147px;width:40px;height:35px"><span style="top:9.72px">T2s</span></div>
<div class="c w" style="left:0px;top:183px;width:38px;height:36px"><i style="height:36.0px;background:#f67a3c"></i><span style="top:10.40px">A9o</span></div>
<div class="c w" style="left:39px;top:183px;width:39px;height:36px"><i style="height:36.0px;background:linear-gradient(90deg,#c8b84e 0.00% 33.33%,#c8b84e 33.33% 66.67%,#bdbc52 66.67% 100.00%)"></i><span style="top:10.40px">K9o</span></div>
<div class="c w" style="left:79px;top:183px;width:39px;height:36px"><i style="height:36.0px;background:#fc943c"></i><span style="top:10.40px">Q9o</span></div>
<div class="c w" style="left:119px;top:183px;width:39px;height:36px"><i style="height:36.0px;background:linear-gradient(90deg,#f6ac42 0.00% 25.00%,#f2ae44 25.00% 50.00%,#f2ae44 50.00% 75.00%,#f2ae44 75.00% 100.00%)"></i><span style="top:10.40px">J9o</span></div>
<div class="c w" style="left:159px;top:183px;width:39px;height:36px"><i style="height:36.0px;background:#fd9e3d"></i><span style="top:10.40px">T9o</span></div>
<div class="c w" style="left:199px;top:183px;width:39px;height:36px"><i style="height:36.0px;background:#fc943c"></i><span style="top:10.40px">99</span></div>
<div class="c w" style="left:239px;top:183px;width:39px;height:36px"><i style="height:36.0px;background:linear-gradient(90deg,#fb8f3c 0.00% 25.00%,#fb923c 25.00% 50.00%,#fb923c 50.00% 75.00%,#fc943c 75.00% 100.00%)"></i><span style="top:10.40px">98s</span></div>
<div class="c w" style="left:279px;top:183px;width:39px;height:36px"><i style="height:36.0px;background:linear-gradient(90deg,#d6b54b 0.00% 25.00%,#dcb44a 25.00% 50.00%,#dcb44a 50.00% 75.00%,#e7b147 75.00% 100.00%)"></i><span style="top:10.40px">97s</span></div>
<div class="c w" style="left:319px;top:183px;width:39px;height:36px"><i style="height:36.0px;background:linear-gradient(90deg,#f9873c 0.00% 25.00%,#fc943c 25.00% 50.00%,#fc943c 50.00% 75.00%,#fc943c 75.00% 100.00%)"></i><span style="top:10.40px">96s</span></div>
<div class="c w" style="left:359px;top:183px;width:38px;height:36px"><i style="height:1px;background:#f9873c;opacity:0.36"></i><span style="top:10.40px">95s</span></div>
<div class="c" style="left:398px;top:183px;width:39px;height:36px"><span style="top:10.40px">94s</span></div>
<div class="c" style="left:438px;top:183px;width:39px;height:36px"><span style="top:10.40px">93s</span></div>
<div class="c" style="left:478px;top:183px;width:40px;height:36px"><span style="top:10.40px">92s</span></div>
<div class="c w" style="left:0px;top:220px;width:38px;height:36px"><i style="height:36.0px;background:linear-gradient(90deg,#fc963c 0.00% 33.33%,#fc963c 33.33% 66.67%,#fd9d3c 66.67% 100.00%)"></i><span style="top:10.08px">A8o</span></div>
<div class="c w" style="left:39px;top:220px;width:39px;height:36px"><i style="height:36.0px;background:#5ad068"></i><span style="top:10.08px">K8o</span></div>
<div class="c w" style="left:79px;top:220px;width:39px;height:36px"><i style="height:5px;background:#fc943c"></i><span style="top:10.08px">Q8o</span></div>
<div class="c w" style="left:119px;top:220px;width:39px;height:36px"><i style="height:10px;background:#fd9a3c"></i><span style="top:10.08px">J8o</span></div>
<div class="c w" style="left:159px;top:220px;width:39px;height:36px"><i style="height:28px;background:#74cc64"></i><span style="top:10.08px">T8o</span></div>
<div class="c w" style="left:199px;top:220px;width:39px;height:36px"><i style="height:34px;background:#fd9a3c"></i><span style="top:10.08px">98o</span></div>
<div class="c w" style="left:239px;top:220px;width:39px;height:36px"><i style="height:36.0px;background:#5ad068"></i><span style="top:10.08px">88</span></div>
<div class="c w" style="left:279px;top:220px;width:39px;height:36px"><i style="height:36.0px;background:linear-gradient(90deg,#f9873c 0.00% 25.00%,#fb923c 25.00% 50.00%,#fb923c 50.00% 75.00%,#fb923c 75.00% 100.00%)"></i><span style="top:10.08px">87s</span></div>
<div class="c w" style="left:319px;top:220px;width:39px;height:36px"><i style="height:36.0px;background:linear-gradient(90deg,#fa8d3c 0.00% 25.00%,#fc943c 25.00% 50.00%,#fc943c 50.00% 75.00%,#fc943c 75.00% 100.00%)"></i><span style="top:10.08px">86s</span></div>
<div class="c w" style="left:359px;top:220px;width:38px;height:36px"><i style="height:36.0px;background:linear-gradient(90deg,#fb923c 0.00% 25.00%,#fd9a3c 25.00% 50.00%,#fd9a3c 50.00% 75.00%,#fd9a3c 75.00% 100.00%)"></i><span style="top:10.08px">85s</span></div>
<div class="c" style="left:398px;top:220px;width:39px;height:36px"><span style="top:10.08px">84s</span></div>
<div class="c" style="left:438px;top:220px;width:39px;height:36px"><span style="top:10.08px">83s</span></div>
<div class="c" style="left:478px;top:220px;width:40px;height:36px"><span style="top:10.08px">82s</span></div>
<div class="c w" style="left:0px;top:257px;width:38px;height:35px"><i style="height:35.0px;background:linear-gradient(90deg,#f6783c 0.00% 16.67%,#f5743c 16.67% 33.33%,#f67a3c 33.33% 50.00%,#f5763c 50.00% 66.67%,#f67a3c 66.67% 83.33%,#f6783c 83.33% 100.00%)"></i><span style="top:9.76px">A7o</span></div>
<div class="c w" style="left:39px;top:257px;width:39px;height:35px"><i style="height:28px;background:#dcb44a"></i><span style="top:9.76px">K7o</span></div>
<div class="c" style="left:79px;top:257px;width:39px;height:35px"><span style="top:9.76px">Q7o</span></div>
<div class="c" style="left:119px;top:257px;width:39px;height:35px"><span style="top:9.76px">J7o</span></div>
<div class="c" style="left:159px;top:257px;width:39px;height:35px"><span style="top:9.76px">T7o</span></div>
<div class="c" style="left:199px;top:257px;width:39px;height:35px"><span style="top:9.76px">97o</span></div>
<div class="c w" style="left:239px;top:257px;width:39px;height:35px"><i style="height:6px;background:#fd9a3c"></i><span style="top:9.76px">87o</span></div>
<div class="c w" style="left:279px;top:257px;width:39px;height:35px"><i style="height:35.0px;background:#fa8b3c"></i><span style="top:9.76px">77</span></div>
<div class="c w" style="left:319px;top:257px;width:39px;height:35px"><i style="height:35.0px;background:linear-gradient(90deg,#fa8b3c 0.00% 25.00%,#fc943c 25.00% 50.00%,#fc943c 50.00% 75.00%,#fc943c 75.00% 100.00%)"></i><span style="top:9.76px">76s</span></div>
<div class="c w" style="left:359px;top:257px;width:38px;height:35px"><i style="height:35.0px;background:linear-gradient(90deg,#f5723c 0.00% 25.00%,#f77f3c 25.00% 50.00%,#f77f3c 50.00% 75.00%,#f77f3c 75.00% 100.00%)"></i><span style="top:9.76px">75s</span></div>
<div class="c w" style="left:398px;top:257px;width:39px;height:35px"><i style="height:6px;background:#f9873c"></i><span style="top:9.76px">74s</span></div>
<div class="c" style="left:438px;top:257px;width:39px;height:35px"><span style="top:9.76px">73s</span></div>
<div class="c" style="left:478px;top:257px;width:40px;height:35px"><span style="top:9.76px">72s</span></div>
<div class="c w" style="left:0px;top:293px;width:38px;height:36px"><i style="height:36.0px;background:#f5743c"></i><span style="top:10.44px">A6o</span></div>
<div class="c" style="left:39px;top:293px;width:39px;height:36px"><span style="top:10.44px">K6o</span></div>
<div class="c" style="left:79px;top:293px;width:39px;height:36px"><span style="top:10.44px">Q6o</span></div>
<div class="c" style="left:119px;top:293px;width:39px;height:36px"><span style="top:10.44px">J6o</span></div>
<div class="c" style="left:159px;top:293px;width:39px;height:36px"><span style="top:10.44px">T6o</span></div>
<div class="c" style="left:199px;top:293px;width:39px;height:36px"><span style="top:10.44px">96o</span></div>
<div class="c" style="left:239px;top:293px;width:39px;height:36px"><span style="top:10.44px">86o</span></div>
<div class="c w" style="left:279px;top:293px;width:39px;height:36px"><i style="height:1px;background:#f9873c;opacity:0.30"></i><span style="top:10.44px">76o</span></div>
<div class="c w" style="left:319px;top:293px;width:39px;height:36px"><i style="height:36.0px;background:#fa8d3c"></i><span style="top:10.44px">66</span></div>
<div class="c w" style="left:359px;top:293px;width:38px;height:36px"><i style="height:36.0px;background:linear-gradient(90deg,#f46c3c 0.00% 25.00%,#f6783c 25.00% 50.00%,#f6783c 50.00% 75.00%,#f6783c 75.00% 100.00%)"></i><span style="top:10.44px">65s</span></div>
<div class="c w" style="left:398px;top:293px;width:39px;height:36px"><i style="height:36.0px;background:linear-gradient(90deg,#f4693c 0.00% 25.00%,#f6783c 25.00% 50.00%,#f6783c 50.00% 75.00%,#f6783c 75.00% 100.00%)"></i><span style="top:10.44px">64s</span></div>
<div class="c" style="left:438px;top:293px;width:39px;height:36px"><span style="top:10.44px">63s</span></div>
<div class="c" style="left:478px;top:293px;width:40px;height:36px"><span style="top:10.44px">62s</span></div>
<div class="c w" style="left:0px;top:330px;width:38px;height:36px"><i style="height:36.0px;background:#f5743c"></i><span style="top:10.12px">A5o</span></div>
<div class="c" style="left:39px;top:330px;width:39px;height:36px"><span style="top:10.12px">K5o</span></div>
<div class="c" style="left:79px;top:330px;width:39px;height:36px"><span style="top:10.12px">Q5o</span></div>
<div class="c" style="left:119px;top:330px;width:39px;height:36px"><span style="top:10.12px">J5o</span></div>
<div class="c" style="left:159px;top:330px;width:39px;height:36px"><span style="top:10.12px">T5o</span></div>
<div class="c" style="left:199px;top:330px;width:39px;height:36px"><span style="top:10.12px">95o</span></div>
<div class="c" style="left:239px;top:330px;width:39px;height:36px"><span style="top:10.12px">85o</span></div>
<div class="c" style="left:279px;top:330px;width:39px;height:36px"><span style="top:10.12px">75o</span></div>
<div class="c" style="left:319px;top:330px;width:39px;height:36px"><span style="top:10.12px">65o</span></div>
<div class="c w" style="left:359px;top:330px;width:38px;height:36px"><i style="height:36.0px;background:#f77f3c"></i><span style="top:10.12px">55</span></div>
<div class="c w" style="left:398px;top:330px;width:39px;height:36px"><i style="height:36.0px;background:linear-gradient(90deg,#f4693c 0.00% 25.00%,#f6783c 25.00% 50.00%,#f6783c 50.00% 75.00%,#f6783c 75.00% 100.00%)"></i><span style="top:10.12px">54s</span></div>
<div class="c w" style="left:438px;top:330px;width:39px;height:36px"><i style="height:36.0px;background:linear-gradient(90deg,#f4693c 0.00% 25.00%,#f6783c 25.00% 50.00%,#f6783c 50.00% 75.00%,#f6783c 75.00% 100.00%)"></i><span style="top:10.12px">53s</span></div>
<div class="c" style="left:478px;top:330px;width:40px;height:36px"><span style="top:10.12px">52s</span></div>
<div class="c w" style="left:0px;top:367px;width:38px;height:35px"><i style="height:35.0px;background:#f5743c"></i><span style="top:9.80px">A4o</span></div>
<div class="c" style="left:39px;top:367px;width:39px;height:35px"><span style="top:9.80px">K4o</span></div>
<div class="c" style="left:79px;top:367px;width:39px;height:35px"><span style="top:9.80px">Q4o</span></div>
<div class="c" style="left:119px;top:367px;width:39px;height:35px"><span style="top:9.80px">J4o</span></div>
<div class="c" style="left:159px;top:367px;width:39px;height:35px"><span style="top:9.80px">T4o</span></div>
<div class="c" style="left:199px;top:367px;width:39px;height:35px"><span style="top:9.80px">94o</span></div>
<div class="c" style="left:239px;top:367px;width:39px;height:35px"><span style="top:9.80px">84o</span></div>
<div class="c" style="left:279px;top:367px;width:39px;height:35px"><span style="top:9.80px">74o</span></div>
<div class="c" style="left:319px;top:367px;width:39px;height:35px"><span style="top:9.80px">64o</span></div>
<div class="c" style="left:359px;top:367px;width:38px;height:35px"><span style="top:9.80px">54o</span></div>
<div class="c w" style="left:398px;top:367px;width:39px;height:35px"><i style="height:35.0px;background:#f77f3c"></i><span style="top:9.80px">44</span></div>
<div class="c" style="left:438px;top:367px;width:39px;height:35px"><span style="top:9.80px">43s</span></div>
<div class="c" style="left:478px;top:367px;width:40px;height:35px"><span style="top:9.80px">42s</span></div>
<div class="c w" style="left:0px;top:403px;width:38px;height:36px"><i style="height:12px;background:#f5743c"></i><span style="top:10.48px">A3o</span></div>
<div class="c" style="left:39px;top:403px;width:39px;height:36px"><span style="top:10.48px">K3o</span></div>
<div class="c" style="left:79px;top:403px;width:39px;height:36px"><span style="top:10.48px">Q3o</span></div>
<div class="c" style="left:119px;top:403px;width:39px;height:36px"><span style="top:10.48px">J3o</span></div>
<div class="c" style="left:159px;top:403px;width:39px;height:36px"><span style="top:10.48px">T3o</span></div>
<div class="c" style="left:199px;top:403px;width:39px;height:36px"><span style="top:10.48px">93o</span></div>
<div class="c" style="left:239px;top:403px;width:39px;height:36px"><span style="top:10.48px">83o</span></div>
<div class="c" style="left:279px;top:403px;width:39px;height:36px"><span style="top:10.48px">73o</span></div>
<div class="c" style="left:319px;top:403px;width:39px;height:36px"><span style="top:10.48px">63o</span></div>
<div class="c" style="left:359px;top:403px;width:38px;height:36px"><span style="top:10.48px">53o</span></div>
<div class="c" style="left:398px;top:403px;width:39px;height:36px"><span style="top:10.48px">43o</span></div>
<div class="c w" style="left:438px;top:403px;width:39px;height:36px"><i style="height:36.0px;background:#f77f3c"></i><span style="top:10.48px">33</span></div>
<div class="c" style="left:478px;top:403px;width:40px;height:36px"><span style="top:10.48px">32s</span></div>
<div class="c" style="left:0px;top:440px;width:38px;height:37px"><span style="top:10.16px">A2o</span></div>
<div class="c" style="left:39px;top:440px;width:39px;height:37px"><span style="top:10.16px">K2o</span></div>
<div class="c" style="left:79px;top:440px;width:39px;height:37px"><span style="top:10.16px">Q2o</span></div>
<div class="c" style="left:119px;top:440px;width:39px;height:37px"><span style="top:10.16px">J2o</span></div>
<div class="c" style="left:159px;top:440px;width:39px;height:37px"><span style="top:10.16px">T2o</span></div>
<div class="c" style="left:199px;top:440px;width:39px;height:37px"><span style="top:10.16px">92o</span></div>
<div class="c" style="left:239px;top:440px;width:39px;height:37px"><span style="top:10.16px">82o</span></div>
<div class="c" style="left:279px;top:440px;width:39px;height:37px"><span style="top:10.16px">72o</span></div>
<div class="c" style="left:319px;top:440px;width:39px;height:37px"><span style="top:10.16px">62o</span></div>
<div class="c" style="left:359px;top:440px;width:38px;height:37px"><span style="top:10.16px">52o</span></div>
<div class="c" style="left:398px;top:440px;width:39px;height:37px"><span style="top:10.16px">42o</span></div>
<div class="c" style="left:438px;top:440px;width:39px;height:37px"><span style="top:10.16px">32o</span></div>
<div class="c w" style="left:478px;top:440px;width:40px;height:37px"><i style="height:37.0px;background:linear-gradient(90deg,#f77f3c 0.00% 16.67%,#f77f3c 16.67% 33.33%,#f9873c 33.33% 50.00%,#f77f3c 50.00% 66.67%,#f77f3c 66.67% 83.33%,#f77f3c 83.33% 100.00%)"></i><span style="top:10.16px">22</span></div>
</div>
<div class="row" style="top:25.01px"><span class="l g">704.5</span><span class="m">Combos</span><span class="r rd">513.8</span></div><div class="bar" style="top:45.8px"><i class="t" style="left:52.8px;width:74.5px"></i><i class="h" style="left:127.3px;width:54.5px"></i></div><div class="row" style="top:69.21px"><span class="l rd">1.37<b class="pc">30.42%</b></span><span class="m">EV</span><span class="r g"><b class="pc">69.58%</b>3.13</span></div><div class="bar" style="top:90.0px"><i class="h" style="left:87.8px;width:39.9px"></i><i class="t" style="left:127.7px;width:89.2px"></i></div><div class="row" style="top:113.31px"><span class="l rd">41.5<em>%</em></span><span class="m">Equity</span><span class="r g">58.5<em>%</em></span></div><div class="bar" style="top:134.1px"><i class="h" style="left:73.8px;width:53.9px"></i><i class="t" style="left:127.7px;width:75.3px"></i></div><div class="row" style="top:157.41px"><span class="l rd">73.3<em>%</em></span><span class="m">EQR</span><span class="r g">118.9<em>%</em></span></div><div class="bar" style="top:178.2px"><i class="h" style="left:78.6px;width:49.1px"></i><i class="t" style="left:127.7px;width:79.2px"></i></div><div class="row" style="top:245.21px"><span class="l rd">6.5<em>%</em></span><span class="m b">Best hands</span><span class="r g">22.5<em>%</em></span></div><div class="bar" style="top:266.0px"><i class="h" style="left:98.9px;width:28.8px"></i><i class="t" style="left:127.7px;width:99.4px"></i></div><div class="row" style="top:289.21px"><span class="l rd">33.6<em>%</em></span><span class="m b">Good hands</span><span class="r g">36.3<em>%</em></span></div><div class="bar" style="top:310.0px"><i class="h" style="left:65.8px;width:61.9px"></i><i class="t" style="left:127.7px;width:66.1px"></i></div><div class="row" style="top:333.11px"><span class="l rd">15.7<em>%</em></span><span class="m b">Weak hands</span><span class="r g">34.3<em>%</em></span></div><div class="bar" style="top:353.9px"><i class="h" style="left:86.8px;width:40.9px"></i><i class="t" style="left:127.7px;width:88.1px"></i></div><div class="row" style="top:377.31px"><span class="l g">44.2<em>%</em></span><span class="m b">Trash hands</span><span class="r rd">6.9<em>%</em></span></div><div class="bar" style="top:398.1px"><i class="t" style="left:16.7px;width:110.6px"></i><i class="h" style="left:127.3px;width:17.4px"></i></div>
<div class="dd" style="left:540.1px;top:211.1px;width:256.3px;height:19.7px"><span style="position:absolute;left:0;width:255.6px;text-align:center;top:1.6px;font-size:14px;line-height:16px">EQ buckets - Simple</span><div class="caret" style="left:241.2px;top:7.6px"></div></div>
<svg class="ann" width="1335" height="518" viewBox="0 0 1335 518"><g transform="scale(1,1.15)" fill="none" stroke="#0747e0" stroke-width="4" stroke-linecap="round" stroke-linejoin="round">
<path d="M328.8 34.8C328.7 30.6 327.6 26.3 328.2 22.2C328.4 20.7 329.6 19.3 331.0 18.7C333.8 17.4 336.9 16.8 340.0 16.8C345.0 16.8 350.0 17.9 355.0 18.7C360.4 19.6 365.7 20.7 371.0 21.9C374.2 22.7 377.8 22.8 380.5 24.7C381.8 25.7 381.5 27.9 381.6 29.6C381.8 37.1 381.6 44.6 381.4 52.2C381.1 63.8 381.3 75.4 380.3 87.0C379.9 91.7 378.1 96.2 377.0 100.9C376.2 104.3 375.0 107.8 374.8 111.3C374.3 123.5 375.0 135.7 375.0 147.8C375.0 164.1 374.9 180.3 375.0 196.5C375.1 215.1 375.1 233.6 375.8 252.2C376.0 257.4 376.4 262.7 377.5 267.8C378.2 270.9 378.8 274.3 381.0 276.5C383.1 278.6 386.4 279.5 389.3 279.6C402.8 279.7 416.3 277.3 429.8 277.0C452.2 276.6 474.6 277.1 497.0 277.2C508.3 277.3 519.7 276.7 531.0 277.6C534.1 277.8 537.8 278.1 540.0 280.4C542.2 282.7 542.1 286.4 542.3 289.6C542.6 293.0 541.9 296.5 541.5 300.0C541.1 303.6 541.6 307.5 539.9 310.6C537.9 314.2 535.0 318.4 531.0 319.1C519.9 321.2 508.5 319.0 497.2 318.4C482.2 317.7 467.2 316.3 452.2 315.5C437.2 314.7 422.3 314.0 407.3 313.6C399.8 313.4 392.3 313.1 384.8 313.6C381.6 313.8 378.2 314.0 375.5 315.7C373.8 316.7 373.0 318.9 372.5 320.9C371.8 323.6 371.8 326.5 371.8 329.3C371.8 340.1 372.1 350.9 372.5 361.7C372.7 367.5 372.9 373.2 373.6 378.9C374.4 385.4 376.2 391.9 377.0 398.4C377.7 404.9 378.3 411.5 378.1 418.0C378.0 422.8 377.8 427.7 376.0 432.2C374.9 434.8 372.1 436.3 370.0 438.3C369.1 439.1 368.1 440.2 366.9 440.4C362.5 441.3 357.9 441.7 353.4 441.4C348.8 441.1 344.0 440.5 339.9 438.4C337.3 437.1 335.3 434.4 334.3 431.7C332.2 426.1 331.8 420.0 330.9 414.1C329.6 405.7 327.7 397.2 327.5 388.7C327.3 382.1 329.0 375.7 329.8 369.1C330.5 362.6 332.2 356.1 332.0 349.6C331.9 345.9 329.3 342.7 328.7 339.0C327.8 333.9 328.1 328.6 327.5 323.5C327.2 321.4 327.1 319.2 326.0 317.4C325.1 315.9 323.6 314.6 321.9 314.3C316.7 313.6 311.4 314.0 306.2 314.5C298.6 315.3 291.3 317.5 283.7 318.4C275.3 319.5 266.9 320.6 258.4 320.4C247.1 320.2 236.0 317.6 224.7 317.1C202.3 316.1 179.8 315.9 157.3 316.0C134.9 316.1 112.4 316.9 90.0 317.6C75.0 318.0 60.0 319.9 45.0 319.5C35.2 319.2 25.1 318.6 15.7 315.6C11.5 314.2 8.0 310.6 5.6 306.9C3.4 303.5 2.1 299.1 2.7 295.1C3.3 291.0 5.7 286.9 9.0 284.3C12.8 281.4 17.7 279.9 22.5 279.4C37.4 277.9 52.4 278.7 67.4 278.4C89.9 278.1 112.3 277.7 134.8 277.5C157.2 277.2 179.6 276.2 202.0 276.9C213.4 277.2 224.7 279.4 236.0 280.4C240.7 280.9 245.3 281.5 250.0 281.4C256.6 281.3 263.1 280.3 269.7 280.0C278.1 279.6 286.6 279.3 295.0 279.1C305.5 279.0 316.0 279.7 326.4 279.1C328.4 279.0 330.8 278.5 332.0 277.0C333.6 275.0 333.7 272.1 333.8 269.6C334.3 252.2 334.2 234.8 333.6 217.4C333.3 208.7 331.4 200.0 330.9 191.3C330.6 185.5 331.5 179.7 331.3 173.9C330.8 159.4 329.3 144.9 328.7 130.4C328.2 118.8 327.8 107.3 327.8 95.7C327.8 81.2 328.4 66.7 328.6 52.2C328.7 46.4 328.9 40.6 328.8 34.8Z"/><path d="M1111.9 30.3C1112.0 28.1 1111.9 25.6 1113.0 23.7C1114.1 22.0 1116.1 21.0 1118.0 20.3C1120.2 19.4 1122.6 19.2 1124.9 19.0C1130.9 18.4 1136.9 17.8 1142.9 18.1C1147.4 18.3 1152.0 18.8 1156.3 20.3C1158.2 20.9 1159.9 22.5 1160.9 24.2C1162.0 26.0 1162.2 28.2 1162.4 30.3C1162.7 33.2 1162.5 36.1 1162.5 39.0C1162.6 52.1 1163.1 65.1 1162.9 78.2C1162.8 84.9 1162.0 91.6 1161.4 98.3C1160.9 103.9 1159.8 109.5 1159.7 115.2C1159.6 128.2 1160.9 141.2 1160.8 154.3C1160.7 164.0 1159.9 173.8 1159.3 183.6C1159.1 186.7 1158.9 189.9 1158.6 193.0C1157.9 199.0 1156.5 204.9 1156.3 210.9C1155.9 223.9 1156.0 236.9 1156.8 249.9C1157.1 255.2 1157.9 260.6 1159.7 265.6C1160.8 268.8 1162.4 272.4 1165.3 274.2C1168.1 275.9 1171.8 274.9 1175.0 275.0C1180.8 275.2 1186.5 275.0 1192.3 275.0C1207.3 274.8 1222.2 274.5 1237.2 274.4C1244.7 274.4 1252.2 274.6 1259.7 274.9C1267.2 275.1 1274.7 275.5 1282.2 276.0C1289.7 276.6 1297.2 277.2 1304.7 278.2C1308.5 278.7 1312.3 279.1 1316.0 280.3C1318.4 281.0 1320.4 282.6 1322.6 283.7C1324.0 284.4 1325.7 284.7 1327.0 285.7C1328.4 286.7 1329.8 287.9 1330.5 289.6C1331.8 292.8 1332.8 296.4 1332.8 299.9C1332.8 304.8 1333.0 310.1 1330.5 314.3C1328.5 317.8 1324.4 320.5 1320.4 321.1C1311.5 322.5 1302.4 320.6 1293.4 320.2C1282.2 319.6 1270.9 319.4 1259.7 318.3C1248.4 317.1 1237.3 314.3 1226.0 313.4C1214.8 312.5 1203.5 312.8 1192.3 312.8C1184.8 312.8 1177.3 312.6 1169.8 313.4C1168.2 313.6 1166.5 314.3 1165.5 315.5C1164.5 316.6 1164.4 318.3 1164.2 319.8C1163.3 326.2 1162.6 332.6 1162.0 339.0C1161.7 342.5 1161.2 346.1 1161.4 349.6C1161.5 352.8 1163.0 356.0 1162.9 359.3C1162.8 365.9 1161.2 372.3 1160.8 378.9C1160.2 388.6 1160.2 398.4 1159.7 408.2C1159.3 417.3 1159.5 426.5 1158.1 435.6C1157.6 438.5 1156.2 441.4 1154.1 443.4C1152.0 445.3 1149.1 446.5 1146.2 446.7C1142.7 446.9 1139.4 445.2 1136.1 444.3C1131.6 443.1 1126.7 442.7 1122.6 440.4C1120.0 439.0 1117.9 436.4 1117.0 433.6C1115.4 428.6 1115.5 423.2 1115.4 418.0C1115.2 408.2 1115.4 398.5 1115.9 388.7C1116.3 380.8 1117.2 373.0 1118.1 365.2C1118.6 360.9 1119.8 356.6 1119.9 352.2C1120.0 347.8 1119.0 343.4 1118.6 339.0C1118.2 335.0 1118.3 330.9 1117.5 327.0C1117.1 324.8 1116.6 322.3 1115.0 320.7C1112.8 318.5 1109.9 316.8 1106.9 316.3C1098.1 314.5 1089.0 314.3 1080.0 313.9C1065.0 313.4 1050.0 313.4 1035.0 313.6C1019.1 313.8 1003.1 314.7 987.2 315.0C964.7 315.5 942.3 315.8 919.8 315.8C897.3 315.9 874.9 315.9 852.4 315.4C836.7 315.1 820.9 315.0 805.2 313.5C802.6 313.2 800.1 311.8 798.0 310.3C797.0 309.5 796.4 308.1 796.2 306.9C795.5 303.0 794.9 299.1 795.1 295.1C795.2 292.1 795.8 288.9 797.0 286.1C797.7 284.4 799.2 283.2 800.7 282.2C802.3 281.1 804.1 280.3 806.0 279.8C807.9 279.3 810.0 279.2 812.0 279.2C825.5 279.6 838.9 281.2 852.4 281.2C874.9 281.2 897.3 279.7 919.8 279.2C942.3 278.7 964.7 278.2 987.2 278.3C1003.1 278.3 1019.1 279.2 1035.0 279.4C1042.5 279.5 1050.0 279.6 1057.5 279.2C1068.8 278.6 1080.0 277.3 1091.2 276.2C1097.2 275.6 1103.3 275.3 1109.2 274.2C1110.5 273.9 1112.0 273.2 1112.5 272.0C1113.4 269.9 1113.1 267.5 1113.0 265.2C1112.7 260.1 1111.7 255.0 1111.4 249.9C1110.8 240.2 1110.1 230.4 1110.3 220.6C1110.5 210.8 1111.7 201.1 1112.5 191.3C1113.0 185.5 1113.8 179.7 1114.1 173.8C1114.6 164.1 1114.1 154.3 1114.8 144.5C1115.4 136.6 1117.5 128.9 1118.1 121.0C1118.7 113.5 1118.2 105.8 1118.6 98.3C1118.8 94.2 1119.7 90.1 1119.9 86.0C1120.2 79.5 1120.6 72.9 1119.9 66.4C1119.3 61.1 1117.1 56.0 1115.9 50.8C1114.7 45.6 1113.5 40.4 1112.5 35.1C1112.2 33.5 1111.8 31.9 1111.9 30.3Z"/><path d="M1319.3 282.3C1319.7 284.5 1320.3 286.6 1320.6 288.7C1320.8 290.1 1319.9 294.0 1321.0 293.0C1322.3 291.9 1321.3 289.5 1321.6 287.8C1321.8 286.6 1322.3 285.5 1322.6 284.3"/></g></svg>
</body></html>
